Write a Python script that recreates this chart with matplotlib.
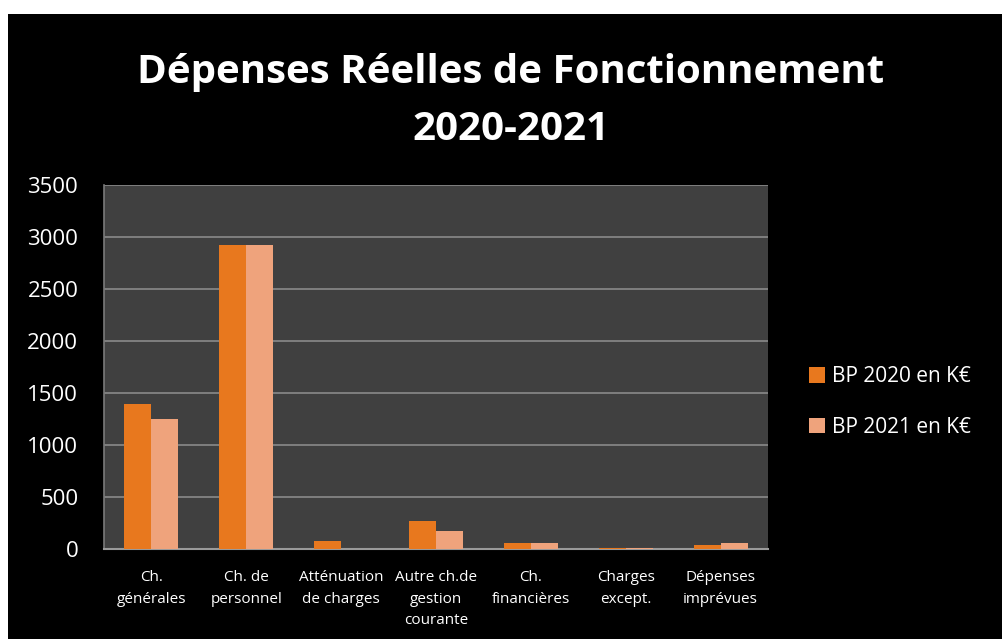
import matplotlib
matplotlib.use("Agg")
import matplotlib.pyplot as plt
from matplotlib.patches import Rectangle, Patch
import numpy as np

categories = ["Ch.\ngénérales", "Ch. de\npersonnel", "Atténuation\nde charges",
              "Autre ch.de\ngestion\ncourante", "Ch.\nfinancières", "Charges\nexcept.",
              "Dépenses\nimprévues"]
bp2020 = [1390, 2920, 75, 270, 58, 8, 38]
bp2021 = [1250, 2920, 0, 175, 55, 8, 58]
series_names = ["BP 2020 en K€", "BP 2021 en K€"]
title = "Dépenses Réelles de Fonctionnement\n2020-2021"
yticks = [0, 500, 1000, 1500, 2000, 2500, 3000, 3500]

FONT = "Open Sans"
W, H = 1003, 639
fig = plt.figure(figsize=(W / 100, H / 100), dpi=100, facecolor="white")
fig.patches.append(Rectangle((8 / W, 0), (W - 8) / W, (H - 14) / H,
                             transform=fig.transFigure, facecolor="black",
                             edgecolor="none", zorder=-10))

ax = fig.add_axes([104 / W, (H - 549) / H, 664 / W, 364 / H])
ax.set_zorder(5)
ax.set_facecolor("#404040")
x = np.arange(len(categories))
bw = 0.285
c1, c2 = "#E8781E", "#EFA37C"
ax.bar(x - bw / 2, bp2020, bw, color=c1, zorder=3)
ax.bar(x + bw / 2, bp2021, bw, color=c2, zorder=3)
ax.set_xlim(-0.5, len(categories) - 0.5)
ax.set_ylim(0, 3500)
ax.set_yticks(yticks)
ax.set_yticklabels([str(v) for v in yticks], color="white", fontsize=16, family=FONT)
ax.set_xticks(x)
ax.set_xticklabels(categories, color="white", fontsize=11, family=FONT, linespacing=1.62)
ax.tick_params(axis="both", length=0)
ax.tick_params(axis="x", pad=15)
ax.tick_params(axis="y", pad=18.5)
ax.grid(axis="y", color="#8a8a8a", linewidth=1.2, zorder=1)
for s in ["right", "top"]:
    ax.spines[s].set_visible(False)
ax.spines["left"].set_color("#7a7a7a")
ax.spines["left"].set_linewidth(1.2)
ax.spines["bottom"].set_color("#9a9a9a")
ax.spines["bottom"].set_linewidth(1.5)

fig.text(511 / W, 1 - 101 / H, title, ha="center", va="center", color="white",
         fontsize=29, fontweight="bold", family=FONT, linespacing=1.6)

handles = [Patch(facecolor=c1, edgecolor="none"), Patch(facecolor=c2, edgecolor="none")]
fig.legend(handles, series_names, loc="center left", bbox_to_anchor=(790 / W, 1 - 402 / H),
           frameon=False, labelcolor="white", prop={"family": FONT, "size": 15},
           handlelength=0.77, handleheight=0.77, handletextpad=0.34, labelspacing=1.42)

fig.savefig("out.png", dpi=100, facecolor="white")
